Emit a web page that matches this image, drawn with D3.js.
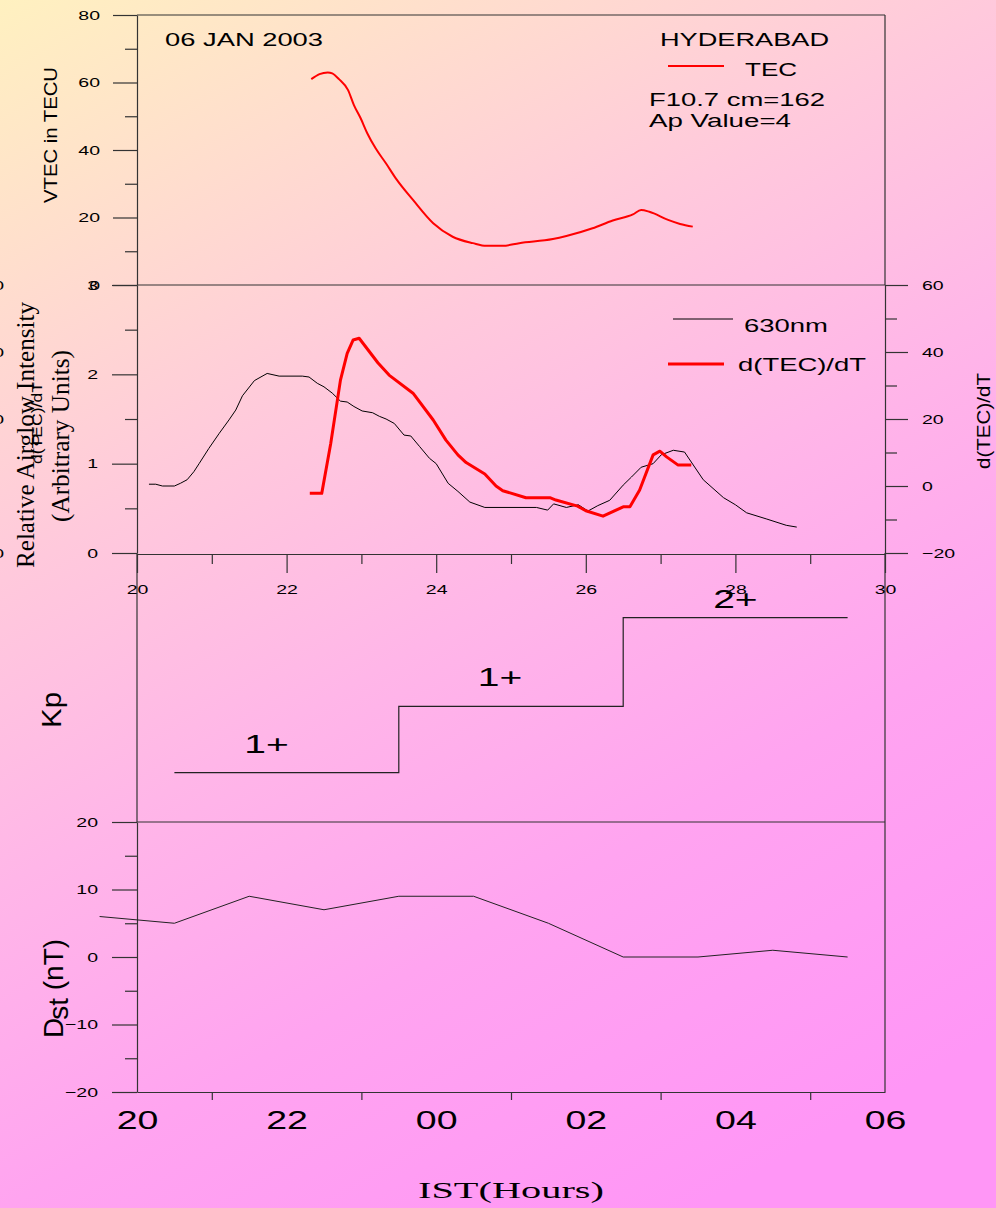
<!DOCTYPE html>
<meta charset="utf-8">
<style>
    body { margin: 0; }
    svg { display: block; }
</style>
<body>
<script src="https://cdn.jsdelivr.net/npm/d3@7"></script>
<script>
// ---- data ----
var tecHour  = [22.33,22.44,22.55,22.61,22.70,22.82,22.90,22.99,23.08,23.19,23.33,23.46,23.69,23.96,24.22,24.49,24.67,24.89,25.11,25.56,25.74,26.09,26.36,26.63,26.74,26.85,27.10,27.26,27.43];
var tecValue = [61.0,62.5,63.0,62.7,61.0,57.8,53.3,49.4,44.9,40.5,36.0,31.6,25.2,18.3,14.3,12.4,11.6,11.6,12.4,13.6,14.5,16.8,19.1,20.9,22.2,21.7,19.3,18.1,17.3];

var airHour  = [20.16,20.25,20.34,20.50,20.58,20.67,20.76,20.83,20.96,21.10,21.23,21.32,21.41,21.57,21.74,21.90,22.21,22.30,22.41,22.50,22.61,22.72,22.81,22.90,23.01,23.15,23.24,23.33,23.44,23.57,23.66,23.78,23.91,24.00,24.16,24.29,24.45,24.65,25.34,25.49,25.57,25.74,25.90,26.03,26.16,26.32,26.50,26.61,26.74,26.90,27.01,27.17,27.32,27.57,27.84,28.00,28.15,28.42,28.68,28.82];
var airValue = [0.77,0.77,0.75,0.75,0.78,0.82,0.91,1.00,1.17,1.34,1.49,1.60,1.76,1.93,2.01,1.98,1.98,1.97,1.90,1.86,1.79,1.70,1.69,1.64,1.59,1.57,1.53,1.50,1.45,1.32,1.31,1.19,1.06,1.00,0.78,0.69,0.57,0.51,0.51,0.48,0.55,0.51,0.54,0.47,0.53,0.59,0.76,0.85,0.96,1.00,1.10,1.15,1.13,0.82,0.62,0.54,0.45,0.38,0.31,0.29];

var derHour  = [22.31,22.47,22.59,22.72,22.81,22.89,22.97,23.22,23.37,23.69,23.96,24.13,24.29,24.40,24.65,24.80,24.89,25.20,25.52,25.60,25.89,26.00,26.23,26.50,26.59,26.72,26.90,26.99,27.08,27.23,27.41];
var derValue = [-2.2,-2.2,12.7,31.6,39.6,43.6,44.1,36.8,33.1,27.7,19.7,13.7,9.3,7.0,3.6,0.0,-1.4,-3.5,-3.5,-4.2,-6.0,-7.4,-9.0,-6.2,-6.2,-1.2,9.3,10.4,8.7,6.3,6.3];

var kpStart = [20.5, 23.5, 26.5];
var kpEnd = 29.5;
var kpLevel = [0.55, 1.29, 2.28];
var kpLabel = ["1+", "1+", "2+"];

var dstHour  = [19.5,20.5,21.5,22.5,23.5,24.5,25.5,26.5,27.5,28.5,29.5];
var dstValue = [6, 5, 9, 7, 9, 9, 5, 0, 0, 1, 0];

var tecTicks = [0, 20, 40, 60, 80], tecMinor = [10, 30, 50, 70];
var airTicks = [0, 1, 2, 3], airMinor = [0.5, 1.5, 2.5];
var derTicks = [-20, 0, 20, 40, 60], derMinor = [-10, 10, 30, 50];
var hourTicks = [20, 22, 24, 26, 28, 30], hourMinor = [21, 23, 25, 27, 29];
var dstTicks = [-20, -10, 0, 10, 20], dstMinor = [-15, -5, 5, 15];
var istLabels = ["20", "22", "00", "02", "04", "06"];

// ---- setup ----
var W = 996, H = 1208;
var sans = "'Liberation Sans', Arial, sans-serif";
var serif = "'Liberation Serif', 'Times New Roman', serif";
var frame = "#333";

var svg = d3.select("body").append("svg").attr("width", W).attr("height", H);

var grad = svg.append("defs").append("linearGradient").attr("id", "bg")
    .attr("gradientUnits", "userSpaceOnUse")
    .attr("x1", 0).attr("y1", 0).attr("x2", 700).attr("y2", 1208);
[["0", "#fff1c0"], ["0.36", "#ffc9dc"], ["0.55", "#ffb6e8"], ["0.75", "#ffa4f0"], ["1", "#ff96f6"]]
    .forEach(function(s) { grad.append("stop").attr("offset", s[0]).attr("stop-color", s[1]); });
svg.append("rect").attr("width", W).attr("height", H).attr("fill", "url(#bg)");

var x = d3.scaleLinear().domain([20, 30]).range([137, 885]);
var yTec = d3.scaleLinear().domain([0, 80]).range([285, 15]);
var yAir = d3.scaleLinear().domain([0, 3]).range([553, 285]);
var yDer = d3.scaleLinear().domain([-20, 60]).range([553, 285]);
var yKp = d3.scaleLinear().domain([0, 3]).range([822, 553]);
var yDst = d3.scaleLinear().domain([-20, 20]).range([1092, 822]);

// stretch text horizontally like the original rendering
function widen(sel, k) {
    sel.each(function() {
        if (!this.textContent) return;
        var w = this.getComputedTextLength();
        d3.select(this).attr("textLength", w * k).attr("lengthAdjust", "spacingAndGlyphs");
    });
}

function drawAxis(orient, scale, pos, major, minor, big, small, pad, fmt, size) {
    var g = svg.append("g").attr("transform", pos);
    g.call(orient(scale).tickValues(major).tickSize(big).tickSizeOuter(0).tickPadding(pad).tickFormat(fmt));
    if (minor) {
        g.append("g").call(orient(scale).tickValues(minor).tickSize(small).tickSizeOuter(0).tickFormat(""))
            .select(".domain").remove();
    }
    g.attr("color", frame);
    g.selectAll("g").attr("color", frame);
    g.selectAll(".tick line, .domain").attr("stroke-width", 1.2);
    g.selectAll(".tick text").attr("fill", "#000")
        .attr("font-family", sans).attr("font-size", size);
    widen(g.selectAll(".tick text"), 1.5);
    return g;
}

function hline(y, x1, x2) {
    svg.append("line").attr("x1", x1).attr("x2", x2).attr("y1", y).attr("y2", y)
        .attr("stroke", frame).attr("stroke-width", 1.2);
}
function vline(xp, y1, y2) {
    svg.append("line").attr("x1", xp).attr("x2", xp).attr("y1", y1).attr("y2", y2)
        .attr("stroke", frame).attr("stroke-width", 1.2);
}

function text(xp, y, str, size, len, opts) {
    opts = opts || {};
    var t = svg.append("text").attr("x", xp).attr("y", y).text(str)
        .attr("font-family", opts.family || sans).attr("font-size", size)
        .attr("text-anchor", opts.anchor || "start").attr("fill", "#000");
    if (len) t.attr("textLength", len).attr("lengthAdjust", "spacingAndGlyphs");
    return t;
}

function vtext(xp, y, str, size, len, family) {
    var t = svg.append("text").attr("transform", "translate(" + xp + "," + y + ") rotate(-90)")
        .attr("text-anchor", "middle").attr("font-family", family || sans)
        .attr("font-size", size).attr("fill", "#000").text(str);
    if (len) t.attr("textLength", len).attr("lengthAdjust", "spacingAndGlyphs");
    return t;
}

// ---- frames ----
hline(15, 137, 885);
vline(885, 15, 285);
hline(285, 137, 885);
vline(137, 553, 822);
vline(885, 553, 1092);
hline(822, 137, 885);

// ---- axes ----
var fmt = d3.format("d");
drawAxis(d3.axisLeft, yTec, "translate(137,0)", tecTicks, tecMinor, 24, 12, 13, fmt, 13);
drawAxis(d3.axisLeft, yAir, "translate(137,0)", airTicks, airMinor, 25, 12, 14, fmt, 13);
drawAxis(d3.axisRight, yDer, "translate(885,0)", derTicks, derMinor, 23, 12, 14, fmt, 13);
drawAxis(d3.axisBottom, x, "translate(0,554)", hourTicks, hourMinor, 19, 10, 12, fmt, 13);
drawAxis(d3.axisLeft, yDst, "translate(137,0)", dstTicks, dstMinor, 25, 12, 14, fmt, 13);
drawAxis(d3.axisBottom, x, "translate(0,1092)", hourTicks, hourMinor, 0, 8, 19,
    function(d, i) { return istLabels[i]; }, 25)
    .selectAll(".tick line").filter(function(d) { return hourTicks.indexOf(d) >= 0; }).remove();

// left-edge labels, mostly cut off by the page edge
var edge = drawAxis(d3.axisLeft, yDer, "translate(4,0)", [60, 40, 20, -20], null, 0, 0, 0, fmt, 13);
edge.select(".domain").remove();

// ---- series ----
var tecLine = d3.line().x(function(d) { return x(d[0]); }).y(function(d) { return yTec(d[1]); })
    .curve(d3.curveMonotoneX);
svg.append("path").datum(d3.zip(tecHour, tecValue)).attr("d", tecLine)
    .attr("fill", "none").attr("stroke", "#ff0000").attr("stroke-width", 2);

var airLine = d3.line().x(function(d) { return x(d[0]); }).y(function(d) { return yAir(d[1]); });
svg.append("path").datum(d3.zip(airHour, airValue)).attr("d", airLine)
    .attr("fill", "none").attr("stroke", "#000").attr("stroke-width", 1);

var derLine = d3.line().x(function(d) { return x(d[0]); }).y(function(d) { return yDer(d[1]); });
svg.append("path").datum(d3.zip(derHour, derValue)).attr("d", derLine)
    .attr("fill", "none").attr("stroke", "#ff0000").attr("stroke-width", 3)
    .attr("stroke-linejoin", "round");

var kpPts = kpStart.map(function(h, i) { return [h, kpLevel[i]]; });
kpPts.push([kpEnd, kpLevel[kpLevel.length - 1]]);
var kpLine = d3.line().x(function(d) { return x(d[0]); }).y(function(d) { return yKp(d[1]); })
    .curve(d3.curveStepAfter);
svg.append("path").datum(kpPts).attr("d", kpLine)
    .attr("fill", "none").attr("stroke", "#222").attr("stroke-width", 1.2);

var kpNudge = [[-20, -20], [-11, -20], [0, -10]];
kpLabel.forEach(function(s, i) {
    var mid = (kpStart[i] + (i + 1 < kpStart.length ? kpStart[i + 1] : kpEnd)) / 2;
    var t = text(x(mid) + kpNudge[i][0], yKp(kpLevel[i]) + kpNudge[i][1], s, 26, null, { anchor: "middle" });
    widen(t, 1.5);
});

var dstLine = d3.line().x(function(d) { return x(d[0]); }).y(function(d) { return yDst(d[1]); });
svg.append("path").datum(d3.zip(dstHour, dstValue)).attr("d", dstLine)
    .attr("fill", "none").attr("stroke", "#222").attr("stroke-width", 1);

// ---- annotations and legends ----
text(165, 46, "06 JAN 2003", 19, 158);
text(660, 46, "HYDERABAD", 18, 169);
svg.append("line").attr("x1", 668).attr("x2", 724).attr("y1", 66).attr("y2", 66)
    .attr("stroke", "#ff0000").attr("stroke-width", 2);
text(745, 76, "TEC", 18, 52);
text(649, 106, "F10.7 cm=162", 18, 176);
text(649, 127, "Ap Value=4", 18, 142);

svg.append("line").attr("x1", 673).attr("x2", 733).attr("y1", 319).attr("y2", 319)
    .attr("stroke", "#000").attr("stroke-width", 1);
text(744, 332, "630nm", 18, 84);
svg.append("line").attr("x1", 668).attr("x2", 724).attr("y1", 364).attr("y2", 364)
    .attr("stroke", "#ff0000").attr("stroke-width", 3);
text(738, 371, "d(TEC)/dT", 18, 128);

// ---- axis titles ----
vtext(57, 135, "VTEC in TECU", 19, 136);
vtext(34, 435, "Relative Airglow Intensity", 25, 266, serif);
vtext(69, 436, "(Arbitrary Units)", 25, 172, serif);
vtext(42, 423, "d(TEC)/dT", 15, 82);
vtext(990, 421, "d(TEC)/dT", 18, 96);
vtext(61, 710, "Kp", 28, 36);

var dst = svg.append("text").attr("transform", "translate(63,1038) rotate(-90)")
    .attr("font-family", sans).attr("font-size", 28).attr("fill", "#000");
dst.append("tspan").text("D");
dst.append("tspan").attr("dx", -2).attr("dy", 5).text("st");
dst.append("tspan").attr("dy", -5).text(" (nT)");

text(418, 1198, "IST(Hours)", 24, 186, { family: serif });
</script>
</body>
